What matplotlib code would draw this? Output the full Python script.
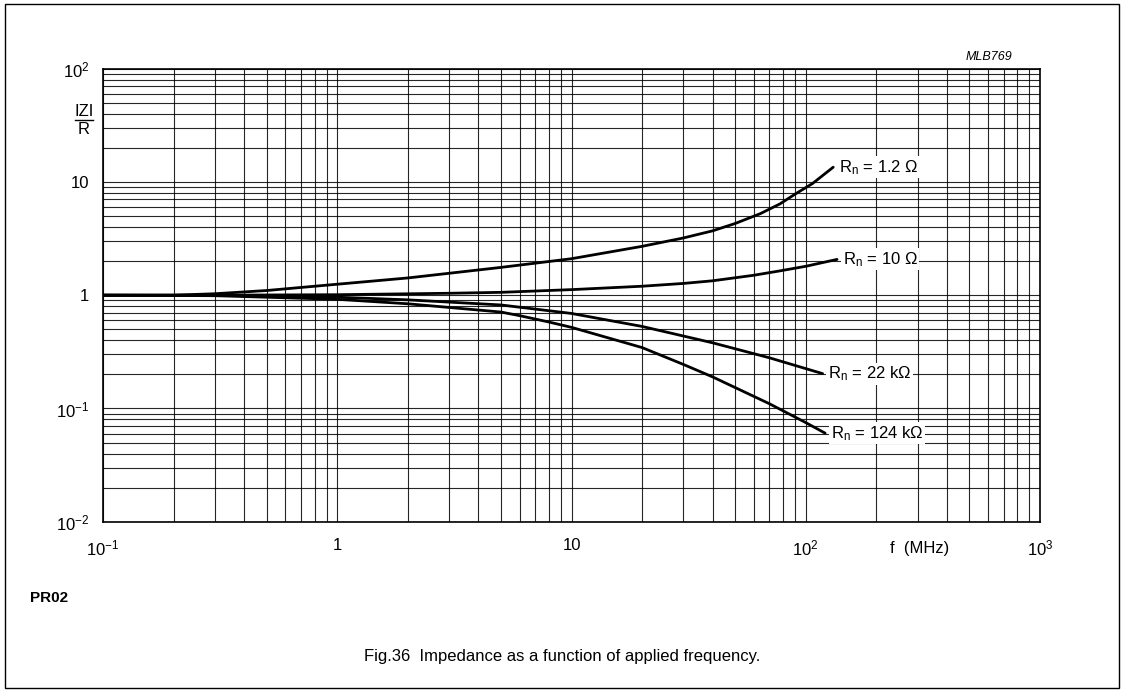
import matplotlib
matplotlib.use("Agg")
import matplotlib.pyplot as plt
from matplotlib.patches import Rectangle
import numpy as np

plt.rcParams['font.family'] = ['Liberation Sans', 'DejaVu Sans']
plt.rcParams['mathtext.fontset'] = 'custom'
plt.rcParams['mathtext.rm'] = 'Liberation Sans'
plt.rcParams['mathtext.it'] = 'Liberation Sans:italic'
plt.rcParams['mathtext.bf'] = 'Liberation Sans:bold'

# Frequency (MHz) and |Z|/R values
f_r1 = [0.1, 0.2, 0.3, 0.5, 1, 2, 5, 10, 20, 30, 40, 50, 64, 77.6, 90, 107, 131]
z_r1 = [1.0, 1.0, 1.03, 1.1, 1.25, 1.42, 1.76, 2.1, 2.7, 3.2, 3.7, 4.3, 5.25, 6.4, 7.8, 9.7, 13.5]

f_r2 = [0.1, 0.3, 1, 3, 5, 10, 20, 30, 40, 60, 77.6, 100, 136]
z_r2 = [1.0, 1.0, 1.01, 1.04, 1.06, 1.12, 1.2, 1.27, 1.34, 1.5, 1.64, 1.8, 2.07]

f_r3 = [0.1, 0.3, 1, 2, 5, 10, 20, 40, 70, 118]
z_r3 = [1.0, 1.0, 0.96, 0.91, 0.82, 0.69, 0.53, 0.38, 0.28, 0.203]

f_r4 = [0.1, 0.3, 1, 2, 5, 6, 8, 10, 20, 30, 40, 70, 100, 121]
z_r4 = [1.0, 0.99, 0.92, 0.84, 0.71, 0.66, 0.58, 0.52, 0.345, 0.245, 0.19, 0.11, 0.075, 0.0605]

labels = [r"R$_\mathregular{n}$ = 1.2 Ω", r"R$_\mathregular{n}$ = 10 Ω",
          r"R$_\mathregular{n}$ = 22 kΩ", r"R$_\mathregular{n}$ = 124 kΩ"]

W, H = 1124, 690
fig = plt.figure(figsize=(W / 100, H / 100), dpi=100)
L, R, T, B = 103, 1040, 68.7, 521.7
ax = fig.add_axes([L / W, 1 - B / H, (R - L) / W, (B - T) / H])
ax.set_xscale('log')
ax.set_yscale('log')
ax.set_xlim(0.1, 1000)
ax.set_ylim(0.01, 100)

ax.grid(True, which='both', color='black', linewidth=0.8, alpha=0.85)
ax.tick_params(which='both', length=0, labelsize=12)
ax.tick_params(axis='x', pad=12)
ax.tick_params(axis='y', pad=10)
ax.set_xticks([0.1, 1, 10, 100, 1000])
ax.set_xticklabels([r"10$^{-1}$", "1", "10", r"10$^{2}$", r"10$^{3}$"])
ax.set_yticks([0.01, 0.1, 1, 10, 100])
ax.set_yticklabels([r"10$^{-2}$", r"10$^{-1}$", "1", "10", r"10$^{2}$"])
for s in ax.spines.values():
    s.set_linewidth(1.2)

series = [(f_r1, z_r1), (f_r2, z_r2), (f_r3, z_r3), (f_r4, z_r4)]
for (f, z), lab in zip(series, labels):
    ax.plot(f, z, color='black', linewidth=2.0, solid_capstyle='round',
            solid_joinstyle='round')
    ax.annotate(lab, xy=(f[-1], z[-1]), xytext=(4, 0), textcoords='offset points',
                ha='left', va='center', fontsize=12,
                bbox=dict(boxstyle='square,pad=0.1', fc='white', ec='none'))

# axis labels
fig.text(920 / W, 1 - 549 / H, "f  (MHz)", ha='center', va='center', fontsize=12)
fig.text(84 / W, 1 - 112 / H, "IZI", ha='center', va='center', fontsize=12)
fig.add_artist(plt.Line2D([75 / W, 93 / W], [1 - 120 / H, 1 - 120 / H], color='black', linewidth=1.0))
fig.text(84 / W, 1 - 130 / H, "R", ha='center', va='center', fontsize=12)

fig.text(1012 / W, 1 - 57 / H, "MLB769", ha='right', va='center', fontsize=9, style='italic')
fig.text(30 / W, 1 - 598 / H, "PR02", ha='left', va='center', fontsize=11, weight='bold')
fig.text(562 / W, 1 - 657 / H, "Fig.36  Impedance as a function of applied frequency.",
         ha='center', va='center', fontsize=12)

fig.add_artist(Rectangle((5 / W, 2 / H), 1114 / W, 684 / H, transform=fig.transFigure,
                         fill=False, ec='black', lw=1.0))

fig.savefig("out.png", dpi=100)
